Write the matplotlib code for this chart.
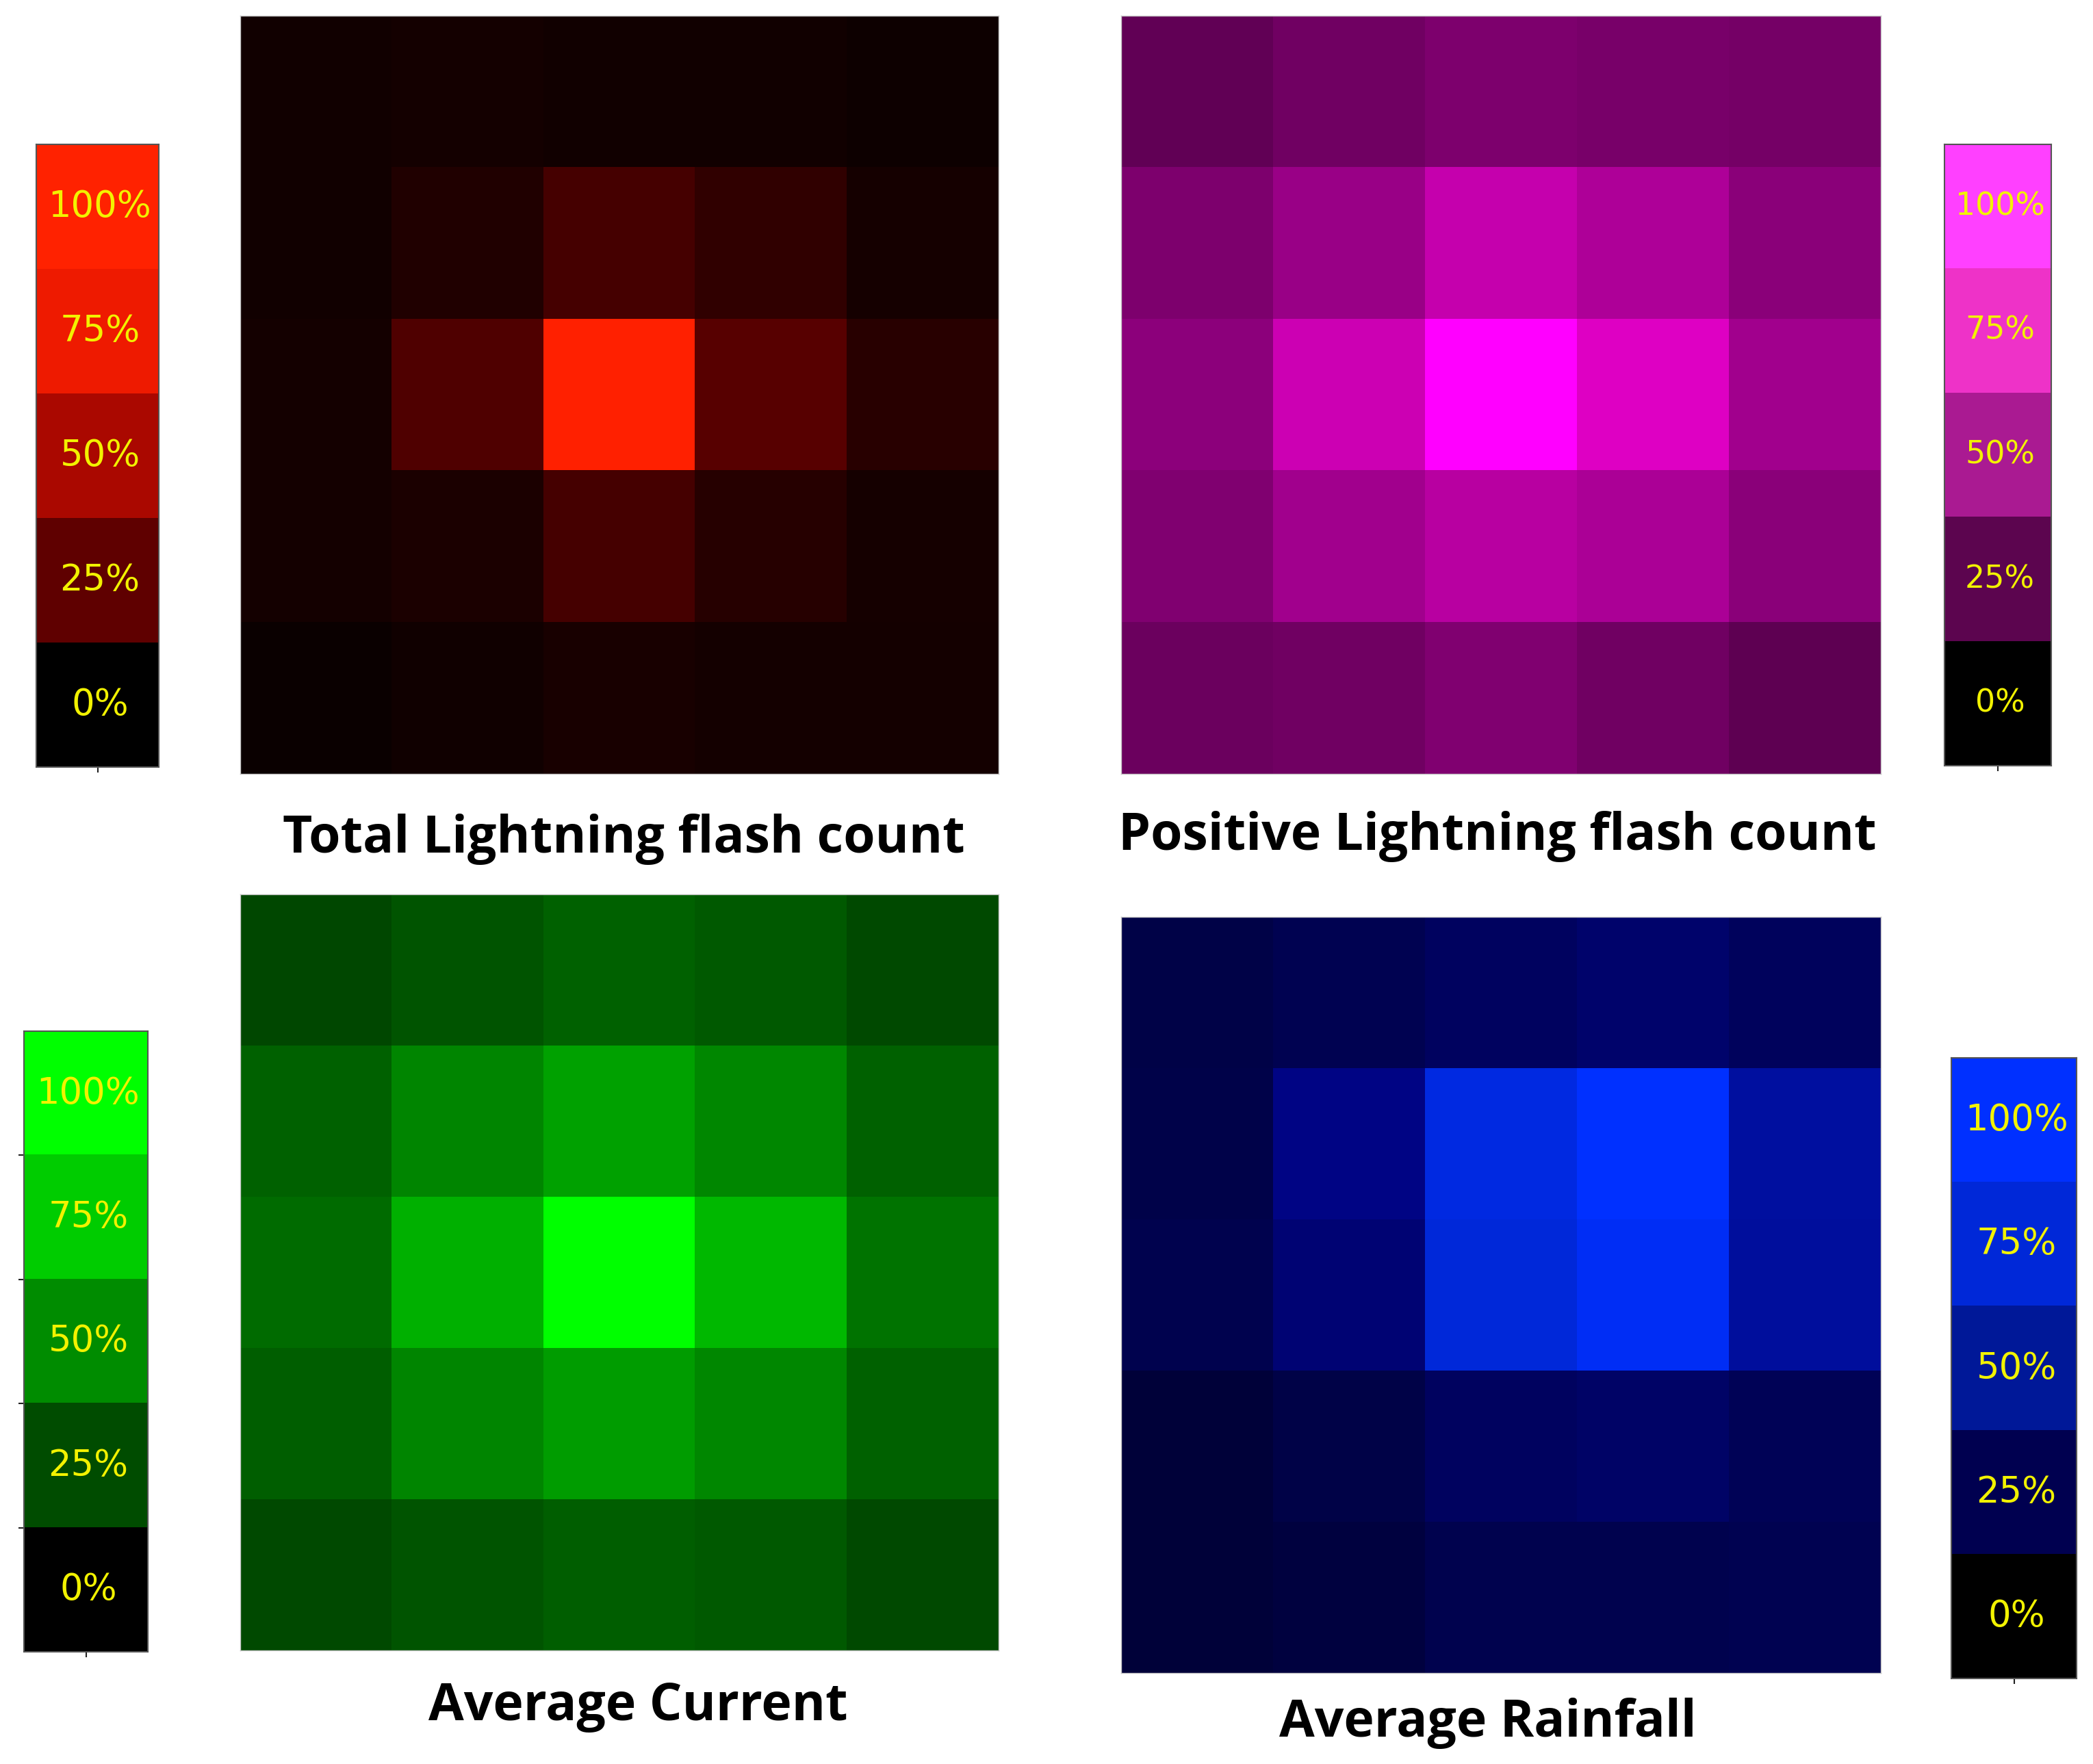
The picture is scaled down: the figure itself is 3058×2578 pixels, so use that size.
import matplotlib
matplotlib.use("Agg")
import matplotlib.pyplot as plt
from matplotlib.colors import LinearSegmentedColormap, ListedColormap
import numpy as np

W, H = 3058, 2578

# cell values (0..1), row 0 = top
total_flash = [[0.07, 0.08, 0.07, 0.07, 0.055],
               [0.07, 0.13, 0.27, 0.19, 0.085],
               [0.08, 0.31, 1.00, 0.345, 0.16],
               [0.08, 0.11, 0.275, 0.15, 0.085],
               [0.045, 0.065, 0.095, 0.08, 0.08]]
positive_flash = [[0.38, 0.44, 0.49, 0.47, 0.46],
                  [0.49, 0.60, 0.77, 0.68, 0.54],
                  [0.55, 0.80, 1.00, 0.87, 0.63],
                  [0.50, 0.63, 0.72, 0.67, 0.54],
                  [0.42, 0.44, 0.50, 0.44, 0.37]]
avg_current = [[0.28, 0.33, 0.38, 0.35, 0.29],
               [0.38, 0.52, 0.63, 0.53, 0.38],
               [0.42, 0.69, 1.00, 0.72, 0.45],
               [0.37, 0.52, 0.61, 0.53, 0.38],
               [0.29, 0.33, 0.37, 0.35, 0.29]]
avg_rainfall = [[0.27, 0.31, 0.36, 0.41, 0.35],
                [0.28, 0.50, 0.88, 1.00, 0.61],
                [0.30, 0.44, 0.85, 0.96, 0.60],
                [0.22, 0.27, 0.36, 0.39, 0.33],
                [0.22, 0.24, 0.30, 0.30, 0.31]]

titles = ["Total Lightning flash count", "Positive Lightning flash count",
          "Average Current", "Average Rainfall"]
cbar_labels = ["0%", "25%", "50%", "75%", "100%"]

# colours for the heat maps and the 5-step bars
heat_colors = [
    [(0, "#000000"), (0.6, "#990000"), (1, "#ff2000")],
    [(0, "#000000"), (0.87, "#de00c3"), (1, "#ff00ff")],
    [(0, "#000000"), (1, "#00ff00")],
    [(0, "#000000"), (0.5, "#000484"), (0.85, "#0028d9"), (1, "#0030ff")],
]
bar_colors = [
    ["#000000", "#5f0000", "#aa0800", "#ee1a00", "#ff2200"],
    ["#000000", "#5c054f", "#aa1a92", "#ee32c8", "#ff40ff"],
    ["#000000", "#004c00", "#008c00", "#00cc00", "#00ff00"],
    ["#000000", "#000050", "#001898", "#0028d8", "#0030ff"],
]
label_sizes = [38, 33, 38, 38]

# pixel boxes (x0, y0, x1, y1) in the output image
heat_boxes = [(351, 23, 1459, 1131), (1638, 23, 2748, 1131),
              (351, 1307, 1459, 2412), (1638, 1340, 2748, 2445)]
bar_boxes = [(53, 211, 232, 1121), (2841, 211, 2997, 1119),
             (35, 1507, 216, 2414), (2851, 1546, 3034, 2453)]
title_pos = [(911, 1226), (2188, 1222), (932, 2494), (2174, 2518)]


def rect(box):
    x0, y0, x1, y1 = box
    return [x0 / W, 1 - y1 / H, (x1 - x0) / W, (y1 - y0) / H]


fig = plt.figure(figsize=(W / 100, H / 100), dpi=100)
fig.patch.set_facecolor("white")

datasets = [total_flash, positive_flash, avg_current, avg_rainfall]
for i in range(4):
    ax = fig.add_axes(rect(heat_boxes[i]))
    cmap = LinearSegmentedColormap.from_list("c%d" % i, heat_colors[i])
    ax.imshow(np.array(datasets[i]), cmap=cmap, vmin=0, vmax=1,
              interpolation="nearest", aspect="auto")
    ax.set_xticks([])
    ax.set_yticks([])
    for sp in ax.spines.values():
        sp.set_color("#c8c8c8")
        sp.set_linewidth(1)

    tx, ty = title_pos[i]
    fig.text(tx / W, 1 - ty / H, titles[i], ha="center", va="center",
             fontsize=54, fontweight="bold", family="Open Sans")

    cax = fig.add_axes(rect(bar_boxes[i]))
    levels = np.arange(5)[::-1].reshape(-1, 1)
    cax.imshow(levels, cmap=ListedColormap(bar_colors[i]), vmin=-0.5, vmax=4.5,
               interpolation="nearest", aspect="auto")
    for k, lab in enumerate(cbar_labels):
        cax.text(0.02, 4 - k, lab, ha="center", va="center", color="#f2f200",
                 fontsize=label_sizes[i], family="DejaVu Sans")
    cax.set_xticks([0])
    cax.set_xticklabels([])
    if i == 2:
        cax.set_yticks([0.5, 1.5, 2.5, 3.5])
        cax.set_yticklabels([])
    else:
        cax.set_yticks([])
    cax.tick_params(length=6, width=1.5, color="#222222")
    for sp in cax.spines.values():
        sp.set_color("#555555")
        sp.set_linewidth(1.5)

fig.savefig("out.png", dpi=100)
